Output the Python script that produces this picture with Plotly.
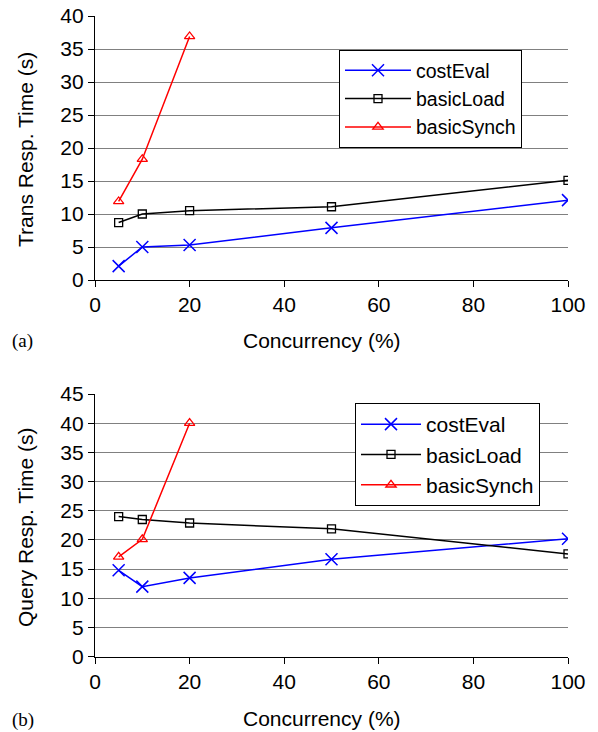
import plotly.graph_objects as go

concurrency = [5, 10, 20, 50, 100]
synch_x = [5, 10, 20]

trans_costEval = [2.1, 5.0, 5.3, 7.9, 12.1]
trans_basicLoad = [8.7, 10.0, 10.5, 11.1, 15.1]
trans_basicSynch = [11.9, 18.3, 36.9]

query_costEval = [14.8, 12.0, 13.5, 16.7, 20.2]
query_basicLoad = [24.0, 23.5, 22.9, 21.9, 17.6]
query_basicSynch = [17.1, 20.1, 40.0]

series_names = ["costEval", "basicLoad", "basicSynch"]
colors = ["#0000ff", "#000000", "#ff0000"]
symbols = ["x-thin-open", "square-open", "triangle-up-open"]
sizes = [12, 8, 9]

FONT = "Liberation Sans, Arial, Helvetica, sans-serif"
FS = 21

fig = go.Figure()

panels = [
    ("x", "y", "legend", [concurrency, concurrency, synch_x],
     [trans_costEval, trans_basicLoad, trans_basicSynch]),
    ("x2", "y2", "legend2", [concurrency, concurrency, synch_x],
     [query_costEval, query_basicLoad, query_basicSynch]),
]
for xa, ya, leg, xs, ys in panels:
    for i in range(3):
        fig.add_trace(go.Scatter(
            x=xs[i], y=ys[i], name=series_names[i], mode="lines+markers",
            xaxis=xa, yaxis=ya, legend=leg,
            line=dict(color=colors[i], width=1.5),
            marker=dict(symbol=symbols[i], size=sizes[i], color=colors[i],
                        line=dict(color=colors[i], width=1.5 if i == 0 else 1.3)),
        ))

W, H = 598, 732
xdom = [95 / W, 568 / W]
top_dom = [1 - 280 / H, 1 - 16 / H]
bot_dom = [1 - 656.7 / H, 1 - 394 / H]

axis_common = dict(
    showline=True, linecolor="black", linewidth=1.2,
    ticks="outside", ticklen=6, tickcolor="black", tickwidth=1.2,
    tickfont=dict(family=FONT, size=FS, color="black"),
    zeroline=False, automargin=False,
)

fig.update_layout(
    width=W, height=H,
    margin=dict(l=0, r=0, t=0, b=0, autoexpand=False),
    paper_bgcolor="white", plot_bgcolor="white",
    xaxis=dict(domain=xdom, range=[0, 100], dtick=20, anchor="y",
               showgrid=False, **axis_common),
    yaxis=dict(domain=top_dom, range=[0, 40], dtick=5, anchor="x",
               showgrid=True, gridcolor="#808080", gridwidth=1, **axis_common),
    xaxis2=dict(domain=xdom, range=[0, 100], dtick=20, anchor="y2",
                showgrid=False, **axis_common),
    yaxis2=dict(domain=bot_dom, range=[0, 45], dtick=5, anchor="x2",
                showgrid=True, gridcolor="#808080", gridwidth=1, **axis_common),
    legend=dict(x=339 / W, y=1 - 50 / H, xanchor="left", yanchor="top",
                bgcolor="white", bordercolor="black", borderwidth=1,
                font=dict(family=FONT, size=19.5, color="black"),
                itemwidth=66, tracegroupgap=0),
    legend2=dict(x=355 / W, y=1 - 403 / H, xanchor="left", yanchor="top",
                 bgcolor="white", bordercolor="black", borderwidth=1,
                 font=dict(family=FONT, size=21, color="black"),
                 itemwidth=60, tracegroupgap=0),
    showlegend=True,
)

ann = []
ann.append(dict(text="Trans Resp. Time (s)", x=25 / W, y=1 - 150 / H, textangle=-90))
ann.append(dict(text="Query Resp. Time (s)", x=25 / W, y=1 - 527 / H, textangle=-90))
ann.append(dict(text="Concurrency (%)", x=322 / W, y=1 - 340 / H))
ann.append(dict(text="Concurrency (%)", x=322 / W, y=1 - 718 / H))
for a in ann:
    a.update(xref="paper", yref="paper", showarrow=False,
             font=dict(family=FONT, size=FS, color="black"),
             xanchor="center", yanchor="middle")
    fig.add_annotation(**a)
for lab, yy in [("(a)", 341), ("(b)", 720)]:
    fig.add_annotation(text=lab, x=10 / W, y=1 - yy / H, xref="paper", yref="paper",
                       showarrow=False, xanchor="left", yanchor="middle",
                       font=dict(family="Liberation Serif, Times New Roman, serif", size=19, color="black"))

fig.write_html("out.html")
